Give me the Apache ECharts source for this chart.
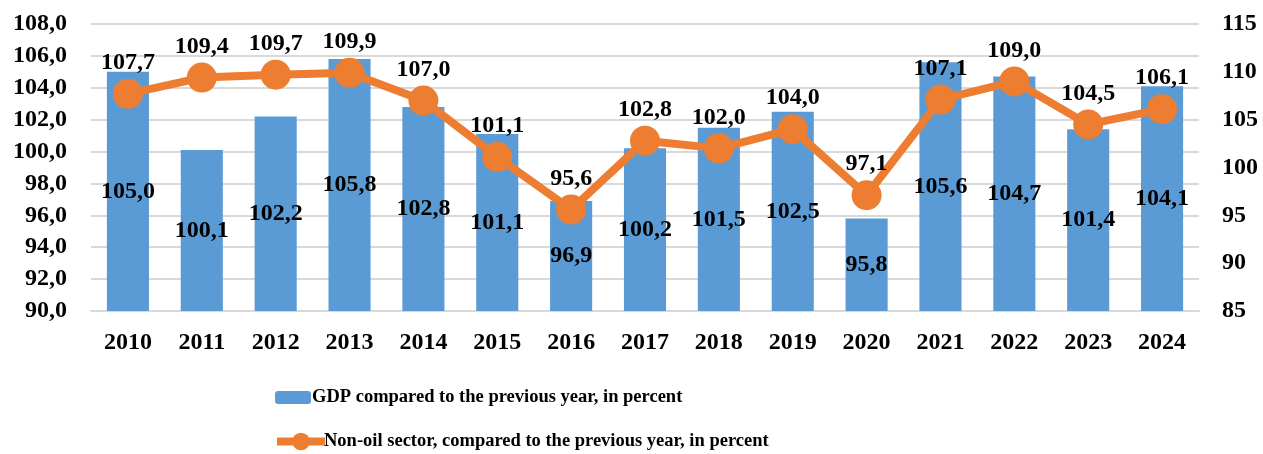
<!doctype html>
<html>
<head>
<meta charset="UTF-8">
<title>GDP and non-oil sector</title>
<script src="https://cdn.jsdelivr.net/npm/echarts@6/dist/echarts.min.js"></script>
<style>
  html, body { margin: 0; padding: 0; background: #fff; }
</style>
</head>
<body>
<div id="main" style="width:1263px;height:454px;"></div>
<script>
var years = ['2010','2011','2012','2013','2014','2015','2016','2017','2018','2019','2020','2021','2022','2023','2024'];
var gdp = [105.0, 100.1, 102.2, 105.8, 102.8, 101.1, 96.9, 100.2, 101.5, 102.5, 95.8, 105.6, 104.7, 101.4, 104.1];
var nonOil = [107.7, 109.4, 109.7, 109.9, 107.0, 101.1, 95.6, 102.8, 102.0, 104.0, 97.1, 107.1, 109.0, 104.5, 106.1];
var gdpName = 'GDP compared to the previous year, in percent';
var nonOilName = 'Non-oil sector, compared to the previous year, in percent';

var font = '"Liberation Serif", "Times New Roman", serif';
function comma(v) { return v.toFixed(1).replace('.', ','); }

var chart = echarts.init(document.getElementById('main'));
chart.setOption({
    animation: false,
    textStyle: { fontFamily: font },
    grid: { left: 91, right: 64, top: 24, bottom: 143 },
    legend: [
        {
            orient: 'vertical', left: 270, top: 383,
            itemWidth: 36, itemHeight: 13, itemGap: 4,
            data: [gdpName],
            textStyle: { fontFamily: font, fontWeight: 'bold', fontSize: 18.5, color: '#000', padding: [0, 0, 0, -4] }
        },
        {
            orient: 'vertical', left: 268, top: 427,
            itemWidth: 48, itemHeight: 22,
            data: [nonOilName],
            lineStyle: { width: 8 },
            textStyle: { fontFamily: font, fontWeight: 'bold', fontSize: 18.5, color: '#000', padding: [0, 0, 0, -6] }
        }
    ],
    xAxis: {
        type: 'category',
        data: years,
        axisTick: { show: false },
        axisLine: { lineStyle: { color: '#d9d9d9', width: 2 } },
        axisLabel: { margin: 20, color: '#000', fontWeight: 'bold', fontSize: 24, fontFamily: font }
    },
    yAxis: [
        {
            type: 'value', min: 90, max: 108, interval: 2,
            axisLine: { show: false }, axisTick: { show: false },
            splitLine: { lineStyle: { color: '#d9d9d9', width: 2 } },
            axisLabel: { margin: 24, color: '#000', fontWeight: 'bold', fontSize: 24, fontFamily: font, formatter: comma }
        },
        {
            type: 'value', min: 85, max: 115, interval: 5,
            axisLine: { show: false }, axisTick: { show: false },
            splitLine: { show: false },
            axisLabel: { margin: 23, color: '#000', fontWeight: 'bold', fontSize: 24, fontFamily: font }
        }
    ],
    series: [
        {
            name: gdpName,
            type: 'bar',
            data: gdp,
            barWidth: '57%',
            itemStyle: { color: '#5b9bd5' },
            label: {
                show: true, position: 'inside', color: '#000',
                fontWeight: 'bold', fontSize: 24, fontFamily: font,
                formatter: function (p) { return comma(p.value); }
            }
        },
        {
            name: nonOilName,
            type: 'line',
            yAxisIndex: 1,
            data: nonOil,
            symbol: 'circle',
            symbolSize: 30,
            lineStyle: { color: '#ed7d31', width: 8 },
            itemStyle: { color: '#ed7d31' },
            label: {
                show: true, position: 'top', distance: 4, color: '#000',
                fontWeight: 'bold', fontSize: 24, fontFamily: font,
                formatter: function (p) { return comma(p.value); }
            }
        }
    ]
});
</script>
</body>
</html>
